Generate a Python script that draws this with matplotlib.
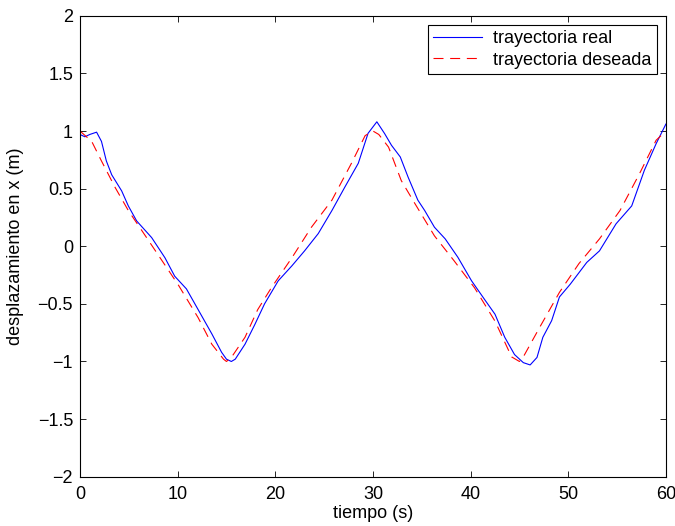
import matplotlib
matplotlib.use('Agg')
import matplotlib.pyplot as plt

plt.rcParams['font.family'] = ['Liberation Sans', 'DejaVu Sans']

t_real = [0.0, 0.5, 1.0, 1.7, 2.2, 2.7, 3.25, 4.27, 4.95, 5.8, 7.34, 8.7, 9.7,
          10.9, 12.1, 13.5, 14.5, 15.0, 15.5, 15.9, 16.9, 17.9, 18.9, 20.3,
          21.7, 23.0, 24.4, 25.8, 27.1, 28.5, 29.5, 30.4, 31.2, 31.9, 32.8,
          33.6, 34.6, 35.3, 36.3, 37.4, 38.7, 40.1, 41.5, 42.5, 43.5, 44.5,
          45.4, 46.1, 46.8, 47.4, 48.3, 49.1, 50.2, 51.9, 53.2, 54.9, 56.5,
          57.8, 59.0, 60.0]
x_real = [0.97, 0.95, 0.97, 0.99, 0.91, 0.74, 0.62, 0.48, 0.35, 0.22, 0.075,
          -0.10, -0.26, -0.37, -0.55, -0.76, -0.92, -0.98, -1.0, -0.98, -0.85,
          -0.68, -0.50, -0.30, -0.17, -0.04, 0.11, 0.31, 0.51, 0.72, 0.98,
          1.08, 0.977, 0.876, 0.775, 0.60, 0.40, 0.31, 0.165, 0.064, -0.096,
          -0.30, -0.47, -0.59, -0.79, -0.94, -1.01, -1.03, -0.965, -0.79,
          -0.646, -0.44, -0.33, -0.14, -0.04, 0.195, 0.35, 0.66, 0.89, 1.06]

# desired trajectory
t_des = [0.0, 1.2, 2.2, 3.6, 4.95, 6.7, 8.4, 10.1, 12.1, 13.5, 14.7, 15.0,
         15.5, 16.9, 18.2, 19.6, 21.7, 23.7, 25.8, 27.8, 29.2, 30.0, 30.6,
         31.6, 32.9, 34.3, 36.3, 38.3, 40.4, 42.5, 44.2, 45.0, 45.4, 47.1,
         49.1, 51.1, 53.2, 55.3, 57.3, 59.0, 60.0]
x_des = [1.0, 0.91, 0.74, 0.51, 0.31, 0.09, -0.125, -0.34, -0.62, -0.85,
         -0.98, -1.0, -0.965, -0.79, -0.55, -0.36, -0.10, 0.165, 0.40, 0.72,
         0.96, 1.0, 0.97, 0.86, 0.57, 0.37, 0.09, -0.125, -0.36, -0.65, -0.96,
         -1.0, -0.96, -0.70, -0.40, -0.15, 0.064, 0.31, 0.63, 0.92, 1.0]

fig = plt.figure(figsize=(6.75, 5.26), dpi=100)
ax = fig.add_axes([0.1185, 0.0937, 0.868, 0.8763])

ax.plot(t_real, x_real, color='#0000ff', lw=0.8, label='trayectoria real')
ax.plot(t_des, x_des, color='#ff0000', lw=0.8, linestyle=(0, (9, 6)),
        label='trayectoria deseada')

ax.set_xlim(0, 60)
ax.set_ylim(-2, 2)
ax.set_xticks([0, 10, 20, 30, 40, 50, 60])
ax.set_yticks([-2, -1.5, -1, -0.5, 0, 0.5, 1, 1.5, 2])
ax.set_yticklabels(['\u22122', '\u22121.5', '\u22121', '\u22120.5', '0', '0.5', '1', '1.5', '2'])
ax.tick_params(direction='in', length=4, width=0.6, top=True, right=True,
               labelsize=13)
ax.tick_params(axis='x', pad=7)
ax.tick_params(axis='y', pad=5)
for s in ax.spines.values():
    s.set_linewidth(0.8)

ax.set_xlabel('tiempo (s)', fontsize=13, labelpad=1)
ax.set_ylabel('desplazamiento en x (m)', fontsize=13, labelpad=10)

leg = ax.legend(loc='upper right', fontsize=13, fancybox=False, framealpha=1,
                edgecolor='black', handlelength=2.7, handletextpad=0.6,
                labelspacing=0.25, borderpad=0.3, borderaxespad=0.5)
leg.get_frame().set_linewidth(0.8)

fig.savefig('out.png', dpi=100)
